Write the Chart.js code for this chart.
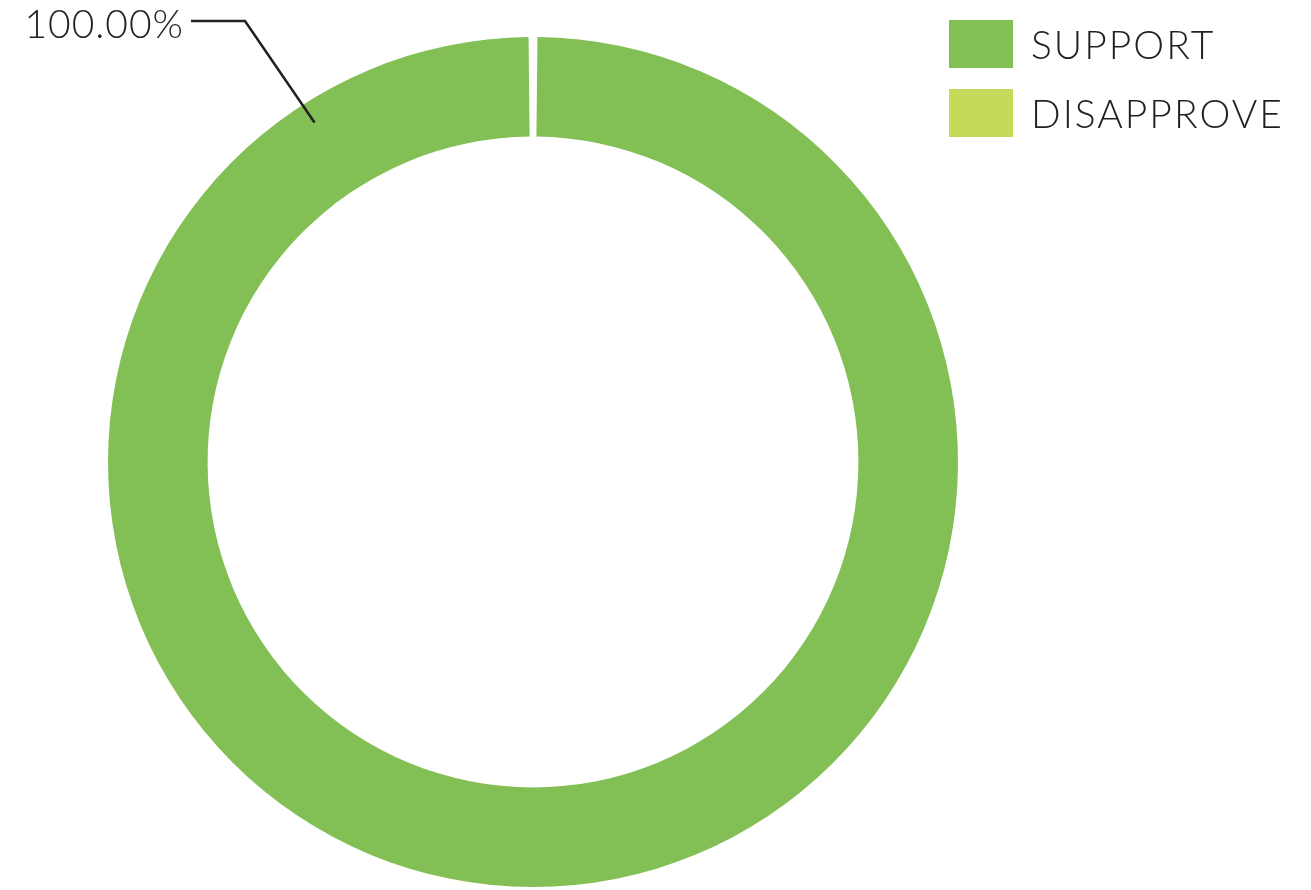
<!DOCTYPE html>
<html lang="en">
<head>
    <meta charset="UTF-8">
    <title>Support vs Disapprove</title>
    <script src="https://cdn.jsdelivr.net/npm/chart.js"></script>
    <style>
        html, body { margin: 0; padding: 0; background: #fff; }
        #wrap { width: 1311px; height: 890px; }
    </style>
</head>
<body>
    <div id="wrap"><canvas id="donut" width="1311" height="890"></canvas></div>
    <script>
        // data
        const labels = ['SUPPORT', 'DISAPPROVE'];
        const values = [100, 0];
        const colors = ['#82bf55', '#c4da5a'];
        const pctLabel = '100.00%';

        const textFont = '300 39px Lato, "Open Sans", sans-serif';
        const textColor = '#231f20';

        // legend drawn by hand so boxes sit where the original has them
        const sideLegend = {
            id: 'sideLegend',
            afterDraw(chart) {
                const ctx = chart.ctx;
                ctx.save();
                ctx.font = textFont;
                ctx.letterSpacing = '2px';
                ctx.textBaseline = 'middle';
                chart.data.labels.forEach((lab, i) => {
                    const y = 20 + i * 69;
                    ctx.fillStyle = chart.data.datasets[0].backgroundColor[i];
                    ctx.fillRect(949, y, 64, 48);
                    ctx.fillStyle = textColor;
                    ctx.fillText(lab, 1031, y + 26);
                });
                ctx.restore();
            }
        };

        // percentage label with leader line
        const leader = {
            id: 'leader',
            afterDatasetsDraw(chart) {
                const arc = chart.getDatasetMeta(0).data[0];
                if (!arc) return;
                const p = arc.getProps(['x', 'y', 'startAngle', 'endAngle', 'innerRadius', 'outerRadius'], true);
                const a = p.startAngle + 0.909 * (p.endAngle - p.startAngle);
                const r = p.outerRadius - 20;
                const ax = p.x + Math.cos(a) * r;
                const ay = p.y + Math.sin(a) * r;
                const ctx = chart.ctx;
                ctx.save();
                ctx.strokeStyle = textColor;
                ctx.lineWidth = 2.5;
                ctx.beginPath();
                ctx.moveTo(ax, ay);
                ctx.lineTo(245, 21);
                ctx.lineTo(191, 21);
                ctx.stroke();
                ctx.font = textFont;
                ctx.letterSpacing = '1px';
                ctx.fillStyle = textColor;
                ctx.textAlign = 'right';
                ctx.textBaseline = 'middle';
                ctx.fillText(pctLabel, 184, 25);
                ctx.restore();
            }
        };

        new Chart(document.getElementById('donut'), {
            type: 'doughnut',
            data: {
                labels: labels,
                datasets: [{
                    data: values,
                    backgroundColor: colors,
                    borderWidth: 0,
                    spacing: 2.5
                }]
            },
            options: {
                responsive: false,
                animation: false,
                cutout: '76.5%',
                layout: { padding: { top: 37, bottom: 3, left: 0, right: 245 } },
                plugins: {
                    legend: { display: false },
                    tooltip: { enabled: false }
                }
            },
            plugins: [sideLegend, leader]
        });
    </script>
</body>
</html>
